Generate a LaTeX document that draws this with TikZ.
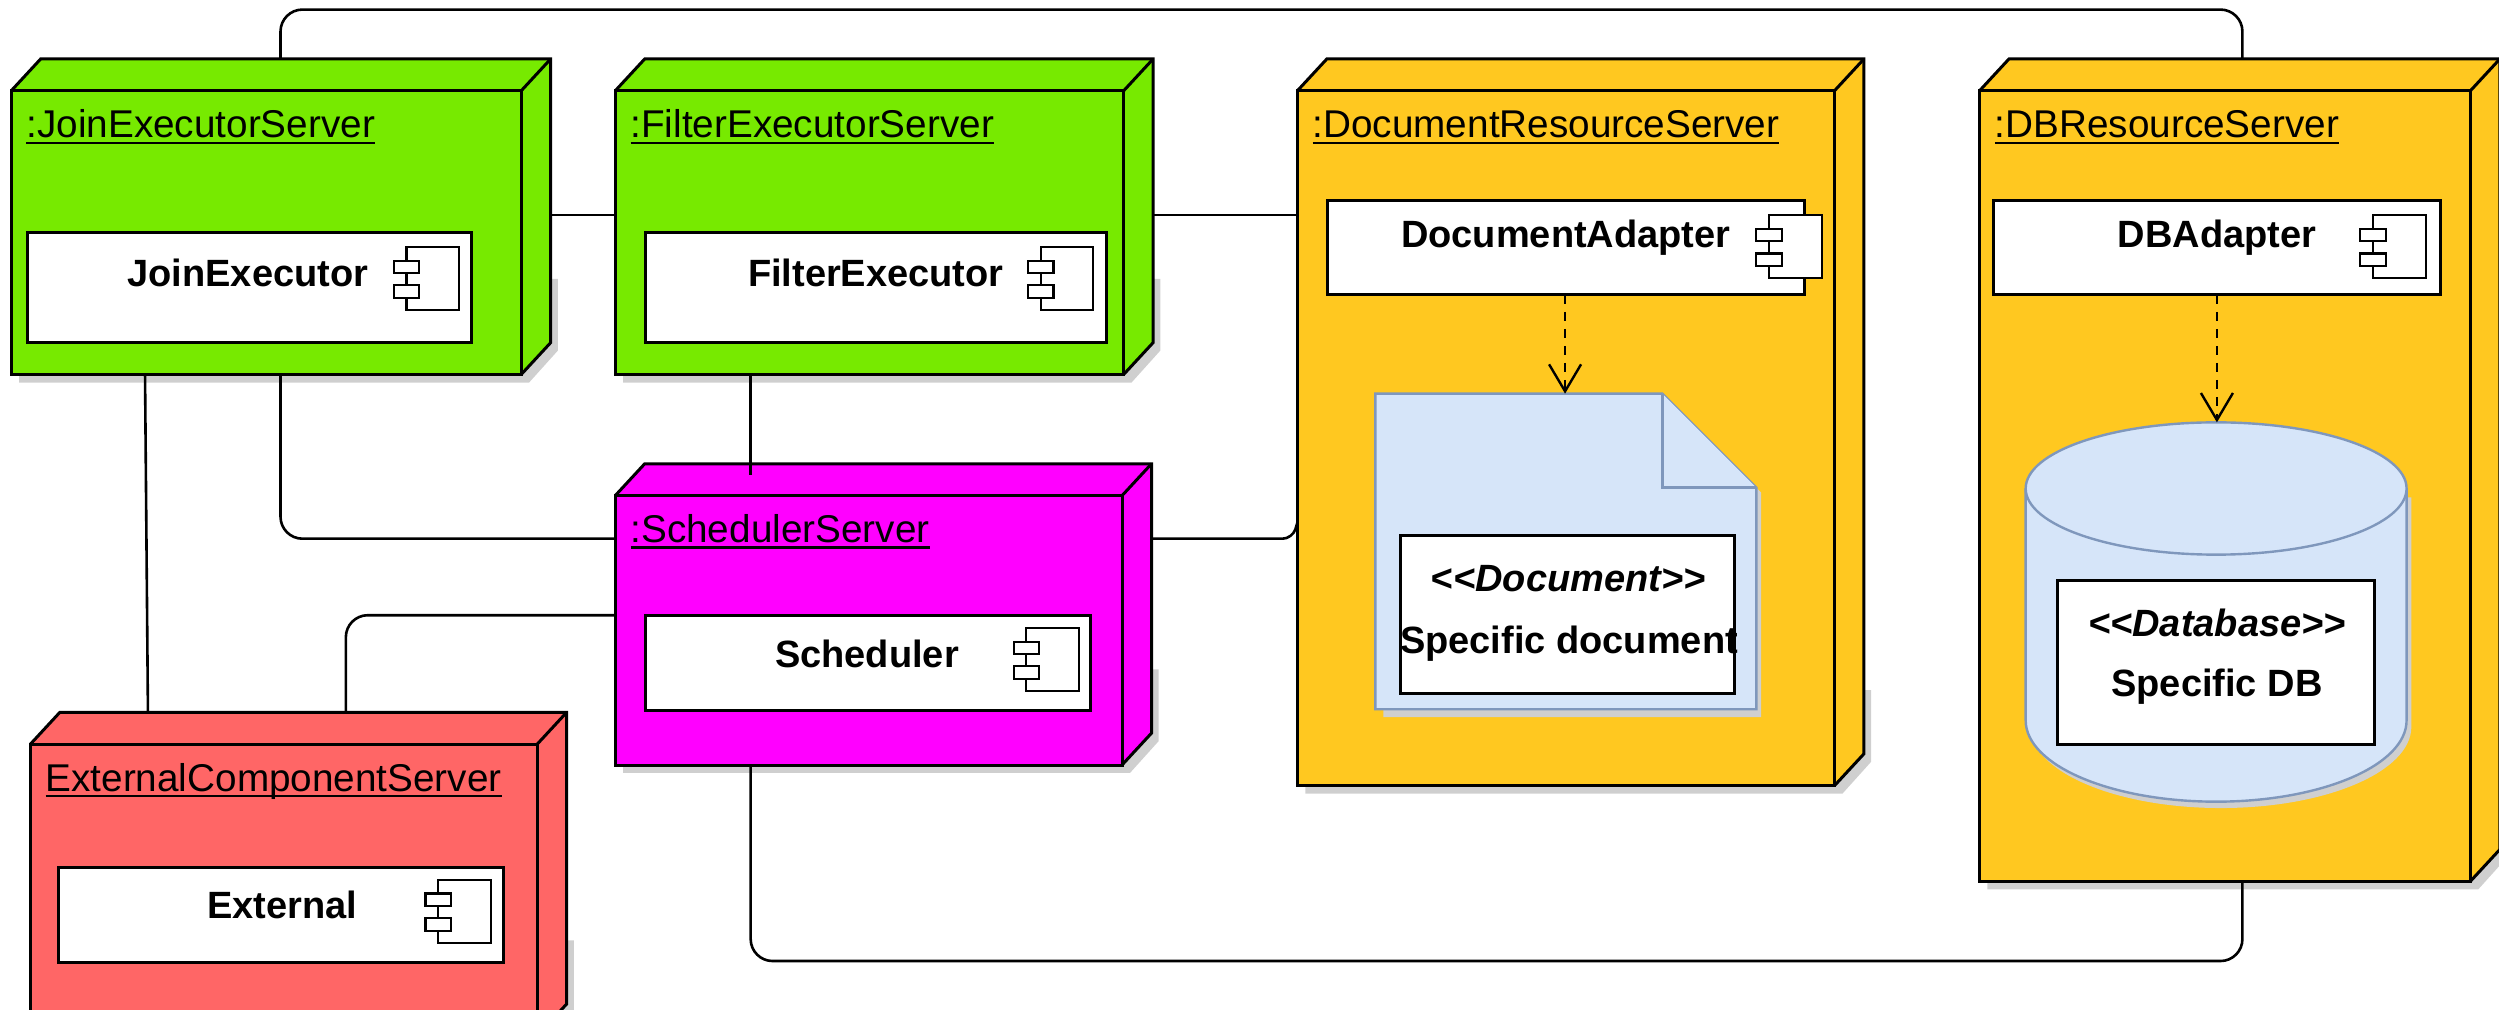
\documentclass[tikz,border=0pt]{standalone}
\usepackage{fontspec}
\setmainfont{Liberation Sans}
\usetikzlibrary{fit,backgrounds,arrows.meta}
\definecolor{cgreen}{HTML}{77EA00}
\definecolor{corange}{HTML}{FFC820}
\definecolor{cmagenta}{HTML}{FF00FF}
\definecolor{cred}{HTML}{FF6666}
\definecolor{cblue}{HTML}{D6E5F9}
\definecolor{cbluedk}{HTML}{7F97BC}
\definecolor{cshadow}{HTML}{CFCFCF}
\newcommand{\ulx}[1]{\setbox0\hbox{#1}\rlap{\rule[-6pt]{\wd0}{2.2pt}}\box0}
\tikzset{
  face/.style={draw=black,line width=3pt,line join=miter},
  srv/.style={face,inner sep=0pt,outer sep=0pt},
  shadowp/.style={fill=cshadow,draw=none},
  ttl/.style={anchor=base west,inner sep=0pt,font=\fontsize{38.7}{40}\selectfont},
  lab/.style={inner sep=0pt,font=\fontsize{38}{40}\bfseries\selectfont},
  stereo/.style={inner sep=0pt,font=\fontsize{38}{40}\bfseries\itshape\selectfont},
  inbox/.style={draw=black,line width=3pt,fill=white,inner sep=0pt,outer sep=0pt},
  icn/.style={draw=black,line width=2.2pt,fill=white},
  conn/.style={draw=black,line width=2.6pt,rounded corners=22pt},
  dep/.style={draw=black,line width=2.6pt,dash pattern=on 9pt off 8pt,-{Straight Barb[length=27pt,width=32pt,line width=2.4pt]}},
  shp/.style={draw=cbluedk,fill=cblue,line width=2.4pt,line join=miter}
}
% name, front left, back top, front right, front bottom, fill, title
\newcommand{\server}[7]{%
  \begin{pgfonlayer}{background}
  \fill[shadowp] (#2+5,#5-5) -- (#2+5,#5+5) -- (#4+5,#5+5) -- (#4+23,#5-15) -- (#4+23,#5-60) -- (#4,#5-60) -- cycle;
  \end{pgfonlayer}
  \fill[#6] (#2,#3+20) -- (#2+18.5,#3) -- (#4+18.5,#3) -- (#4+18.5,#5-20) -- (#4,#5) -- (#4,#3+20) -- cycle;
  \draw[face] (#2,#3+20) -- (#2+18.5,#3) -- (#4+18.5,#3) -- (#4+18.5,#5-20) -- (#4,#5);
  \draw[face] (#4,#3+20) -- (#4+18.5,#3);
  \coordinate (#1a) at (#2,#3+20);
  \coordinate (#1b) at (#4,#5);
  \node[srv,fill=#6,fit=(#1a)(#1b)] (#1) {};
  \node[ttl] (#1title) at (#2+9.5,#3+49.5) {\ulx{#7}};
}
% name, x1, y1, x2, y2
\newcommand{\inner}[5]{%
  \coordinate (#1a) at (#2,#3);
  \coordinate (#1b) at (#4,#5);
  \node[inbox,fit=(#1a)(#1b)] (#1) {};
}
% left, top
\newcommand{\icon}[2]{%
  \draw[icn] (#1+8,#2) rectangle (#1+41,#2+39.5);
  \draw[icn] (#1,#2+8.6) rectangle (#1+16,#2+16.3);
  \draw[icn] (#1,#2+24) rectangle (#1+16,#2+32);
}
\begin{document}
\begin{tikzpicture}[x=1.59375pt,y=-1.59375pt]
\useasboundingbox (0,0) rectangle (1568,633.7);
\clip (0,0) rectangle (1568,633.7);

\server{join}{7}{37}{327}{235}{cgreen}{:JoinExecutorServer}
\server{filter}{386}{37}{705}{235}{cgreen}{:FilterExecutorServer}
\server{doc}{814}{37}{1151}{493}{corange}{:DocumentResourceServer}
\server{db}{1242}{37}{1550}{553}{corange}{:DBResourceServer}
\server{ext}{19}{447}{337}{650}{cred}{ExternalComponentServer}
\server{sched}{386}{291}{704}{480}{cmagenta}{:SchedulerServer}

\inner{joinc}{17}{146}{296}{215}
\inner{filterc}{405}{146}{694}{215}
\inner{docc}{833}{126}{1132}{185}
\inner{dbc}{1251}{126}{1531}{185}
\inner{schedc}{405}{386}{684}{446}
\inner{extc}{37}{544}{316}{604}

\node[lab] (joinl) at (155.5,171) {JoinExecutor};
\node[lab] (filterl) at (549.5,171) {FilterExecutor};
\node[lab] (docl) at (982.5,149) {DocumentAdapter};
\node[lab] (dbl) at (1391,149) {DBAdapter};
\node[lab] (schedl) at (544,410) {Scheduler};
\node[lab] (extl) at (177,568) {External};

\icon{247}{155}
\icon{645}{155}
\icon{1102}{135}
\icon{1481}{135}
\icon{636}{394}
\icon{267}{552}

% document shape
\fill[shadowp] (866,250) -- (1046,250) -- (1105,309) -- (1105,450) -- (868,450) -- cycle;
\draw[shp] (863,247) -- (1043,247) -- (1102,306) -- (1102,445) -- (863,445) -- cycle;
\draw[shp] (1043,247) -- (1043,306) -- (1102,306);
\coordinate (dcta) at (879,336);
\coordinate (dctb) at (1088,435);
\node[inbox,fit=(dcta)(dctb)] (docbox) {};
\node[stereo] (docst) at (984,363) {<{}<Document>{}>};
\node[lab] (docsp) at (984.5,404) {Specific document};
\coordinate (doctop) at (982,247);

% cylinder
\fill[shadowp] (1274,312) -- (1274,456) arc[start angle=180,end angle=0,x radius=119.5,y radius=51] -- (1513,312) -- cycle;
\draw[shp] (1271,306.5) -- (1271,452) arc[start angle=180,end angle=0,x radius=119.5,y radius=51] -- (1510,306.5);
\draw[shp] (1390.5,306.5) ellipse [x radius=119.5,y radius=41.5];
\coordinate (dcyla) at (1291,364);
\coordinate (dcylb) at (1490,467);
\node[inbox,fit=(dcyla)(dcylb)] (dbbox) {};
\node[stereo] (dbst) at (1391,391) {<{}<Database>{}>};
\node[lab] (dbsp) at (1391,431) {Specific DB};
\coordinate (dbtop) at (1391,265);
\coordinate (schedtick) at (471,298);

% dependencies
\draw[dep] (docc.south -| doctop) -- (doctop);
\draw[dep] (dbc.south -| dbtop) -- (dbtop);

% connectors
\begin{pgfonlayer}{background}
\draw[conn] (join.north -| 176,0) -- (176,6) -- (1407,6) -- (db.north -| 1407,0);
\draw[conn] (join.east |- 0,135) -- (filter.west |- 0,135);
\draw[conn] (filter.east |- 0,135) -- (doc.west |- 0,135);
\draw[conn] (join.south -| 91,0) -- (ext.north -| 93,0);
\draw[conn] (join.south -| 176,0) -- (176,338) -- (sched.west |- 0,338);
\draw[conn,rounded corners=10pt] (sched.east |- 0,338) -- (811,338) -- (doc.west |- 0,328);
\draw[conn] (sched.west |- 0,386) -- (217,386) -- (ext.north -| 217,0);
\draw[conn] (sched.south -| 471,0) -- (471,603) -- (1407,603) -- (db.south -| 1407,0);
\end{pgfonlayer}
\draw[conn] (filter.south -| schedtick) -- (schedtick);
\end{tikzpicture}
\end{document}
